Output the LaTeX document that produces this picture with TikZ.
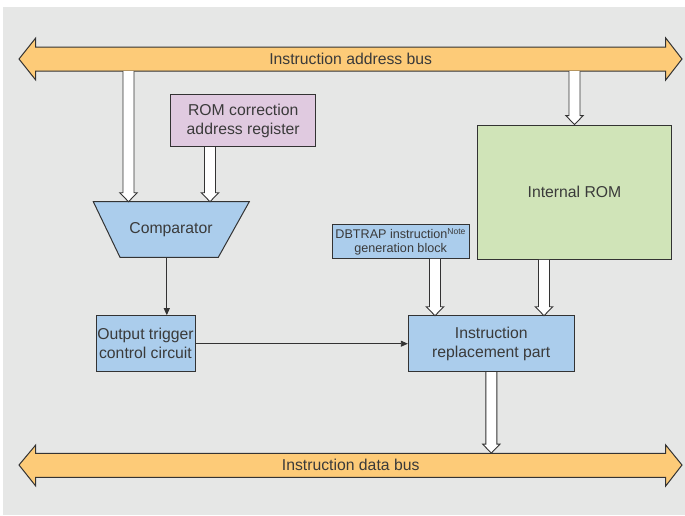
\documentclass[tikz,border=0pt]{standalone}
\usepackage{fontspec}
\setmainfont{Liberation Sans}
\usetikzlibrary{arrows.meta,calc}
\definecolor{bgc}{HTML}{E6E7E6}
\definecolor{busc}{HTML}{FDCB78}
\definecolor{bluec}{HTML}{ABCDEC}
\definecolor{pinkc}{HTML}{E0CAE0}
\definecolor{greenc}{HTML}{D0E4B8}
\definecolor{linec}{HTML}{333333}
\definecolor{txtc}{HTML}{3A3A3A}
\newcommand\hollowarrow[2]{%
  \draw[harrow] let \p1=(#1), \p2=(#2) in
    (\x1-5.5pt,\y1) -- (\x1-5.5pt,\y2+9pt) -- (\x1-8.7pt,\y2+9pt) -- (\x2,\y2)
    -- (\x1+8.7pt,\y2+9pt) -- (\x1+5.5pt,\y2+9pt) -- (\x1+5.5pt,\y1);}
\begin{document}
\begin{tikzpicture}[x=1pt,y=-1pt,
  blockbox/.style={draw=linec, line width=1pt, inner sep=0pt, align=center,
    text=txtc, font=\fontsize{15.75}{19}\selectfont},
  bustext/.style={inner sep=0pt, text=txtc, font=\fontsize{15.75}{19}\selectfont},
  busshape/.style={draw=linec, line width=1pt, fill=busc, line join=miter},
  harrow/.style={draw=linec, line width=0.9pt, fill=white, line join=miter},
  thinarrow/.style={draw=linec, line width=0.9pt, -{Triangle[length=7pt,width=6pt]}}]
\useasboundingbox (0,0) rectangle (685,515);
\fill[bgc] (3,7) rectangle (685,515);

% buses
\draw[busshape] (19,59) -- (35.7,38) -- (35.7,47) -- (665.7,47) -- (665.7,38) -- (682,59)
  -- (665.7,80) -- (665.7,71) -- (35.7,71) -- (35.7,80) -- cycle;
\node[bustext, minimum width=630pt, minimum height=24pt] (abus) at (350.7,59) {Instruction address bus};
\draw[busshape] (19,465) -- (35.7,445) -- (35.7,453.3) -- (665.7,453.3) -- (665.7,445) -- (682,465)
  -- (665.7,486) -- (665.7,477.3) -- (35.7,477.3) -- (35.7,486) -- cycle;
\node[bustext, minimum width=630pt, minimum height=24pt] (dbus) at (350.7,465.3) {Instruction data bus};

% blocks
\node[blockbox, fill=pinkc, minimum width=145pt, minimum height=51.7pt] (reg) at (243.2,120.8)
  {ROM correction\\address register};
\draw[draw=linec, line width=1pt, fill=bluec, line join=miter]
  (93.3,201.7) -- (249.3,201.7) -- (218.3,257.3) -- (120,257.3) -- cycle;
\node[bustext] (cmp) at (171,229.5) {Comparator};
\coordinate (cmpA) at (128.5,201.7);
\coordinate (cmpB) at (210,201.7);
\coordinate (cmpC) at (166.8,257.3);

\node[blockbox, fill=greenc, minimum width=194.4pt, minimum height=134.3pt] (rom) at (574.5,192.2)
  {Internal ROM};
\node[blockbox, fill=bluec, minimum width=136.7pt, minimum height=33.5pt,
  font=\fontsize{12.6}{14}\selectfont] (dbt) at (400.7,241.7)
  {DBTRAP instruction\textsuperscript{\fontsize{8.5}{9}\selectfont Note}\\generation block};
\node[blockbox, fill=bluec, minimum width=99pt, minimum height=56pt] (otc) at (145.5,343.7)
  {Output trigger\\control circuit};
\node[blockbox, fill=bluec, minimum width=166pt, minimum height=56pt] (irp) at (491.3,343.7)
  {Instruction\\replacement part};

\coordinate (irpA) at (435,315.7);
\coordinate (irpB) at (544,315.7);

% hollow arrows
\hollowarrow{abus.south -| cmpA}{cmpA}
\hollowarrow{reg.south -| cmpB}{cmpB}
\hollowarrow{abus.south -| rom.north}{rom.north}
\hollowarrow{dbt.south -| irpA}{irpA}
\hollowarrow{rom.south -| irpB}{irpB}
\hollowarrow{irp.south}{irp.south |- dbus.north}

% thin arrows
\draw[thinarrow] (cmpC) -- (cmpC |- otc.north);
\draw[thinarrow] (otc.east) -- (irp.west);
\end{tikzpicture}
\end{document}
